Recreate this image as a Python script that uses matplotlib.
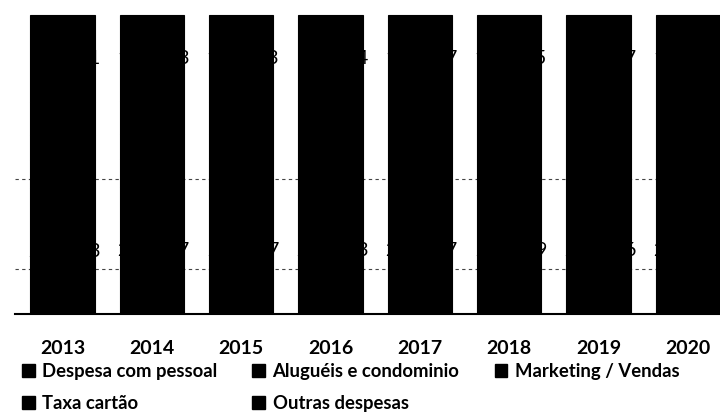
import numpy as np
import matplotlib.pyplot as plt
from matplotlib.patches import Patch

plt.rcParams['font.family'] = ['Lato', 'DejaVu Sans']

years = ['2013', '2014', '2015', '2016', '2017', '2018', '2019', '2020']
pessoal = [213483, 224517, 231207, 238913, 246327, 252109, 259736, 265402]
alugueis = [48210, 50135, 52480, 53910, 55270, 56840, 58120, 59450]
marketing = [41350, 43820, 44170, 45600, 47210, 48930, 50240, 51880]
taxa = [55620, 57940, 59310, 61480, 63150, 64870, 66520, 68210]
outras = [148221, 153263, 157843, 162204, 167537, 171965, 176247, 180312]

series = [
    ('Despesa com pessoal', pessoal),
    ('Aluguéis e condominio', alugueis),
    ('Marketing / Vendas', marketing),
    ('Taxa cartão', taxa),
    ('Outras despesas', outras),
]


def fmt(v):
    return f'{v:,}'.replace(',', '.')


fig = plt.figure(figsize=(7.2, 4.2), dpi=100)
ax = fig.add_axes([0.0208, 0.2524, 0.9792, 0.7476])

x = np.arange(len(years))
totals = np.sum([s[1] for s in series], axis=0)
bottom = np.zeros(len(years))
for name, vals in series:
    pct = np.array(vals) / totals * 100
    ax.bar(x, pct, 0.72, bottom=bottom, color='black', edgecolor='black', linewidth=0.8)
    for xi, b, p, v in zip(x, bottom, pct, vals):
        ax.text(xi + 0.02, b + p / 2, fmt(v), ha='center', va='center', fontsize=14, color='black')
    bottom += pct

# 2013 bar centre near px 63, 2020 near px 695
ax.set_xlim(-0.53, 7.36)
ax.set_ylim(0, 105)
ax.set_yticks([15, 45])
ax.yaxis.grid(True, linestyle=(0, (3, 3)), color='#444444', linewidth=0.8)
ax.set_axisbelow(True)
ax.tick_params(axis='y', length=0, labelleft=False)
ax.set_xticks(x)
ax.set_xticklabels(years, fontsize=14, fontweight='bold')
ax.tick_params(axis='x', length=0, pad=19)
for s in ['top', 'right', 'left']:
    ax.spines[s].set_visible(False)
ax.spines['bottom'].set_linewidth(1.5)

handles = [Patch(facecolor='black', edgecolor='black', label=series[i][0]) for i in [0, 3, 1, 4, 2]]
fig.legend(handles=handles, loc='upper left', bbox_to_anchor=(0.03, 0.135), ncol=3,
           frameon=False, handlelength=0.7, handleheight=0.7,
           handletextpad=0.4, columnspacing=1.9, labelspacing=0.8,
           prop={'weight': 'bold', 'size': 13.3}, borderaxespad=0, borderpad=0)

fig.savefig('out.png', dpi=100)
